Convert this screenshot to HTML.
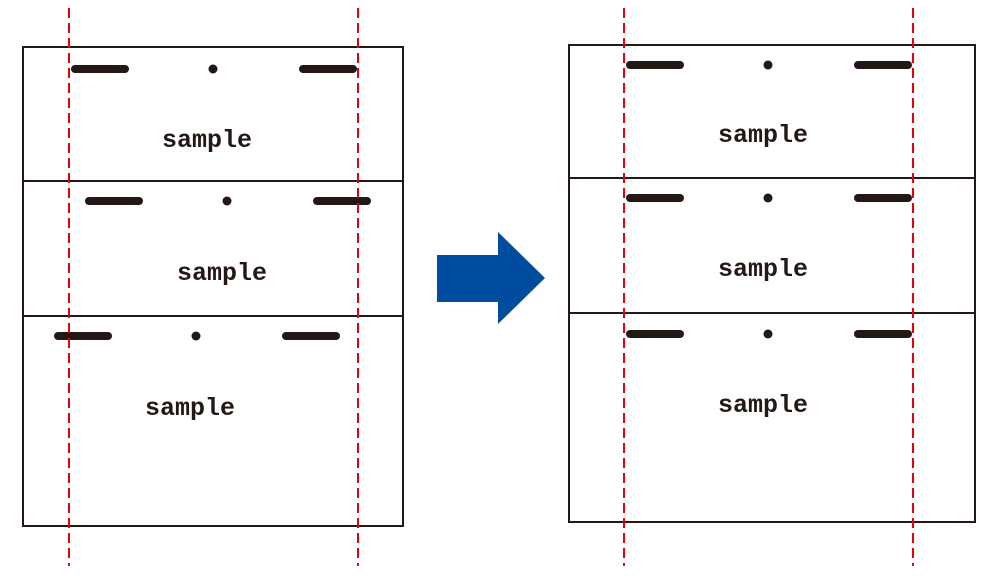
<!DOCTYPE html>
<html><head><style>html,body{margin:0;padding:0;background:#fff}</style></head><body>
<svg width="1000" height="577" xmlns="http://www.w3.org/2000/svg">
<g fill="none" stroke="#231815" stroke-width="2">
<rect x="23" y="47" width="380" height="479"/>
<line x1="23" y1="181" x2="403" y2="181"/><line x1="23" y1="316" x2="403" y2="316"/>
<rect x="569" y="45" width="406" height="477"/>
<line x1="569" y1="178" x2="975" y2="178"/><line x1="569" y1="313" x2="975" y2="313"/>
</g>
<g stroke="#231815" stroke-width="8" stroke-linecap="round">
<line x1="75" y1="69" x2="125" y2="69"/><line x1="303" y1="69" x2="353" y2="69"/>
<line x1="89" y1="201" x2="139" y2="201"/><line x1="317" y1="201" x2="367" y2="201"/>
<line x1="58" y1="336" x2="108" y2="336"/><line x1="286" y1="336" x2="336" y2="336"/>
<line x1="630" y1="65" x2="680" y2="65"/><line x1="858" y1="65" x2="908" y2="65"/>
<line x1="630" y1="198" x2="680" y2="198"/><line x1="858" y1="198" x2="908" y2="198"/>
<line x1="630" y1="334" x2="680" y2="334"/><line x1="858" y1="334" x2="908" y2="334"/>
</g>
<g fill="#231815">
<circle cx="213" cy="69" r="4.5"/><circle cx="227" cy="201" r="4.5"/><circle cx="196" cy="336" r="4.5"/>
<circle cx="768" cy="65" r="4.5"/><circle cx="768" cy="198" r="4.5"/><circle cx="768" cy="334" r="4.5"/>
</g>
<g font-family="'Liberation Mono',monospace" font-weight="bold" font-size="25" fill="#231815" text-anchor="middle">
<text x="207" y="147">sample</text><text x="222" y="280">sample</text><text x="190" y="415">sample</text>
<text x="763" y="142">sample</text><text x="763" y="276">sample</text><text x="763" y="412">sample</text>
</g>
<g stroke="#e60012" stroke-width="2" stroke-dasharray="10,5">
<line x1="69" y1="8" x2="69" y2="566"/><line x1="358" y1="8" x2="358" y2="566"/>
<line x1="624" y1="8" x2="624" y2="566"/><line x1="913" y1="8" x2="913" y2="566"/>
</g>
<polygon points="437,255 498,255 498,232 545,278 498,324 498,302 437,302" fill="#004da0"/>
</svg>
</body></html>
